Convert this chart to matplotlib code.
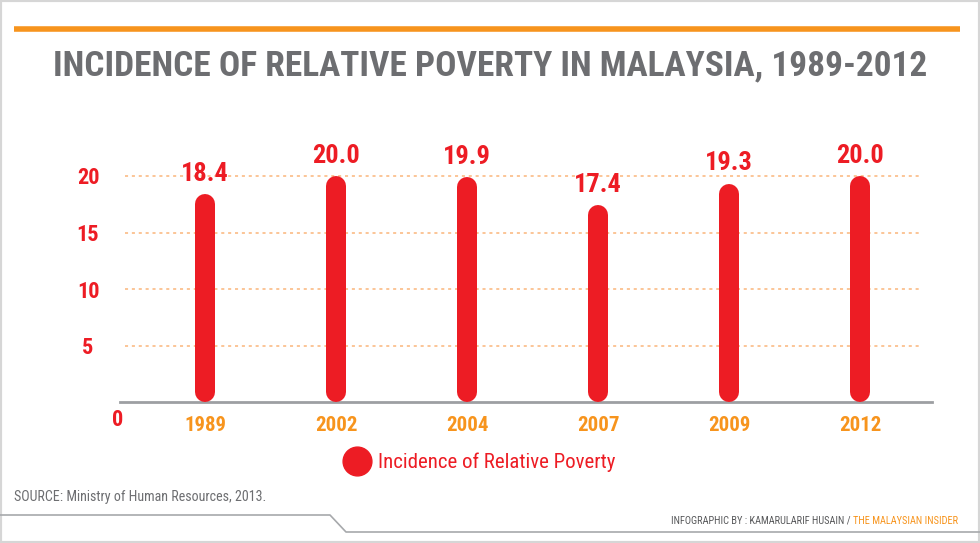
import matplotlib
matplotlib.use('Agg')
import matplotlib.pyplot as plt
from matplotlib.lines import Line2D

plt.rcParams['font.family'] = ['Roboto Condensed', 'Archivo Narrow', 'Liberation Sans', 'DejaVu Sans']

# Data
years = ['1989', '2002', '2004', '2007', '2009', '2012']
poverty = [18.4, 20.0, 19.9, 17.4, 19.3, 20.0]
y_ticks = [5, 10, 15, 20]

RED = '#ed1c24'
ORANGE = '#f7941d'
GREY = '#6d6e71'

W, H = 980, 543
fig = plt.figure(figsize=(W / 100, H / 100), dpi=100)
fig.patch.set_facecolor('white')

def fx(px):
    return px / W

def fy(py):
    return 1 - py / H

# Frame and decorations
fig.add_artist(plt.Rectangle((0, 0), 1, 1, transform=fig.transFigure,
                             fill=False, edgecolor='#d6d6d6', linewidth=3))
fig.add_artist(Line2D([fx(14), fx(960)], [fy(29), fy(29)], color=ORANGE,
                      linewidth=4, solid_capstyle='butt'))
fig.add_artist(Line2D([fx(0), fx(330), fx(346), fx(980)],
                      [fy(515), fy(515), fy(532), fy(532)],
                      color='#a7a9ac', linewidth=1.2))

fig.text(0.5, fy(66), 'INCIDENCE OF RELATIVE POVERTY IN MALAYSIA, 1989-2012',
         ha='center', va='center', fontsize=25.5, fontweight='bold', color=GREY)

# Chart axes
ax_left, ax_right, ax_bottom, ax_top = 120, 932, 402, 119.5
ax = fig.add_axes([fx(ax_left), fy(ax_bottom), fx(ax_right - ax_left),
                   (ax_bottom - ax_top) / H])
ax.set_xlim(-0.65, 5.55)
ax.set_ylim(0, 25)
ax.patch.set_alpha(0)
for side in ['top', 'right', 'left']:
    ax.spines[side].set_visible(False)
ax.spines['bottom'].set_color('#9d9fa2')
ax.spines['bottom'].set_linewidth(2)

ax.hlines(y_ticks, -0.61, 5.45, colors='#fbb57a', linestyles=(0, (2, 2.5)),
          linewidth=1.1, zorder=1)

# Rounded bars
px_per_unit = (ax_bottom - ax_top) / 25
bar_px = 20
half = bar_px / 2 / px_per_unit
for i, v in enumerate(poverty):
    ax.plot([i, i], [half, v - half], color=RED, linewidth=bar_px * 0.72,
            solid_capstyle='round', zorder=3)
    ax.text(i, v + 0.75, f'{v:.1f}', ha='center', va='bottom', color=RED,
            fontsize=19, fontweight='bold')

ax.set_yticks(y_ticks)
ax.set_yticklabels([str(t) for t in y_ticks], color=RED, fontsize=16,
                   fontweight='bold', ha='center')
ax.tick_params(axis='y', length=0, pad=23)
ax.set_xticks(range(len(years)))
ax.set_xticklabels(years, color=ORANGE, fontsize=15, fontweight='bold')
ax.tick_params(axis='x', length=0, pad=10)
fig.text(fx(118), fy(420), '0', ha='center', va='center', color=RED,
         fontsize=16, fontweight='bold')

# Legend
ax_leg = fig.add_axes([0, 0, 1, 1])
ax_leg.set_xlim(0, W)
ax_leg.set_ylim(H, 0)
ax_leg.axis('off')
ax_leg.scatter([357], [461], s=430, color=RED, zorder=3)
fig.text(fx(378), fy(462), 'Incidence of Relative Poverty', ha='left',
         va='center', color=RED, fontsize=15)

# Footer
fig.text(fx(14), fy(497), 'SOURCE: Ministry of Human Resources, 2013.',
         ha='left', va='center', color=GREY, fontsize=10.1)
site = fig.text(fx(958), fy(521), 'THE MALAYSIAN INSIDER', ha='right',
                va='center', color=ORANGE, fontsize=7.5)
fig.canvas.draw()
x0 = site.get_window_extent().x0
fig.text(x0 / W, fy(521), 'INFOGRAPHIC BY : KAMARULARIF HUSAIN / ', ha='right',
         va='center', color='#58595b', fontsize=7.5)

fig.savefig('out.png', dpi=100)
